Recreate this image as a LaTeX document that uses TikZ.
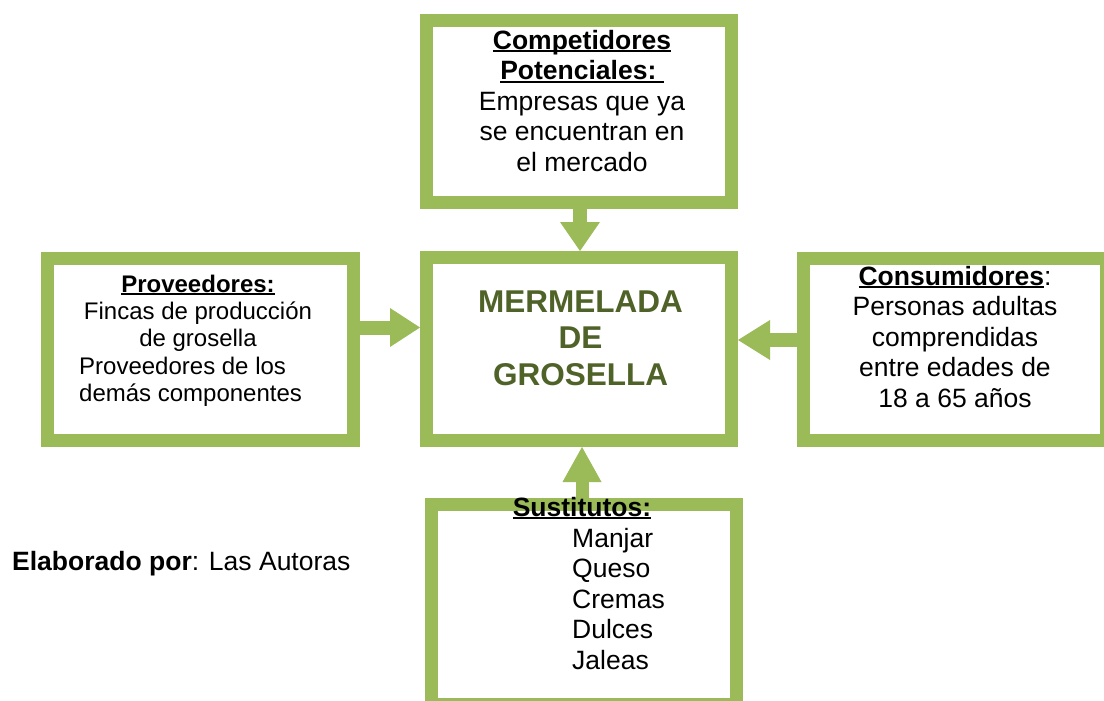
\documentclass[tikz,border=0pt]{standalone}
\usepackage{fontspec}
\setmainfont{Liberation Sans}
\usetikzlibrary{arrows.meta}
\definecolor{grn}{HTML}{9BBB59}
\definecolor{olv}{HTML}{4F6228}
\newsavebox\ulsave
\newcommand{\myul}[1]{\sbox\ulsave{#1}\rlap{\rule[-3pt]{\wd\ulsave}{1.8pt}}\usebox\ulsave}
\begin{document}
\begin{tikzpicture}[x=1pt,y=-1pt,
  box/.style={draw=grn, line width=13pt, fill=white, rectangle, inner sep=0pt,
              outer sep=6.5pt, minimum width=305pt, minimum height=182pt},
  barrow/.style={draw=grn, fill=grn, line width=14pt},
  txt/.style={inner sep=0pt, anchor=base, align=center,
              font=\fontsize{26.5}{30.5}\selectfont},
  txtl/.style={inner sep=0pt, anchor=base west, align=left,
              font=\fontsize{26.5}{30.5}\selectfont},
  smalltxt/.style={inner sep=0pt, font=\fontsize{24}{27.2}\selectfont},
  title/.style={inner sep=0pt, anchor=base, align=center, text=olv,
              font=\fontsize{31.5}{36.5}\selectfont\bfseries}]
\useasboundingbox (0,0) rectangle (1104,701);
\clip (0,0) rectangle (1104,701);
\fill[white] (0,0) rectangle (1104,701);

% boxes
\node[box] (top) at (579,111.5) {};
\node[box, minimum height=183pt] (mid) at (579,349) {};
\node[box, minimum width=306pt] (lb) at (200.5,349.5) {};
\node[box, minimum width=303pt] (rb) at (955,349.5) {};
\node[box, minimum height=200pt] (bot) at (584,604.5) {};

% arrows
\draw[barrow, -{Triangle[width=40pt,length=29pt,line width=0pt]}]
  ([xshift=1pt]top.south) -- ([xshift=1pt]mid.north);
\draw[barrow, -{Triangle[width=39pt,length=30pt,line width=0pt]}]
  ([yshift=22pt]lb.east) -- ([yshift=21.5pt]mid.west);
\draw[barrow, -{Triangle[width=40pt,length=32pt,line width=0pt]}]
  ([yshift=9.5pt]rb.west) -- ([yshift=9pt]mid.east);
\draw[barrow, line width=13pt, -{Triangle[width=39pt,length=35pt,line width=0pt]}]
  ([xshift=-2pt]bot.north) -- ([xshift=3pt]mid.south);

% texts (base anchor = baseline of the last line)
\node[txt] (toptext) at (582,171)
  {\bfseries\myul{Competidores}\\ \bfseries\myul{Potenciales:\ }\\
   Empresas que ya\\ se encuentran en\\ el mercado};
\node[title] (midtext) at (580.5,385) {MERMELADA\\ DE\\ GROSELLA};
\node[smalltxt, anchor=base, align=center] (lbtext) at (198,346.4)
  {\bfseries\myul{Proveedores:}\\ Fincas de producción\\ de grosella};
\node[smalltxt, anchor=base west, align=left] (lbtext2) at (79,401.2)
  {Proveedores de los\\ demás componentes};
\node[txt] (rbtext) at (955,407)
  {\textbf{\myul{Consumidores}}:\\ Personas adultas\\ comprendidas\\
   entre edades de\\ 18 a 65 años};
\node[txt] (bothead) at (582,516) {\bfseries\myul{Sustitutos:}};
\node[txtl] (botlist) at (572,669) {Manjar\\ Queso\\ Cremas\\ Dulces\\ Jaleas};
\node[txtl] (credit) at (12,570) {\textbf{Elaborado por}: Las Autoras};
\end{tikzpicture}
\end{document}
